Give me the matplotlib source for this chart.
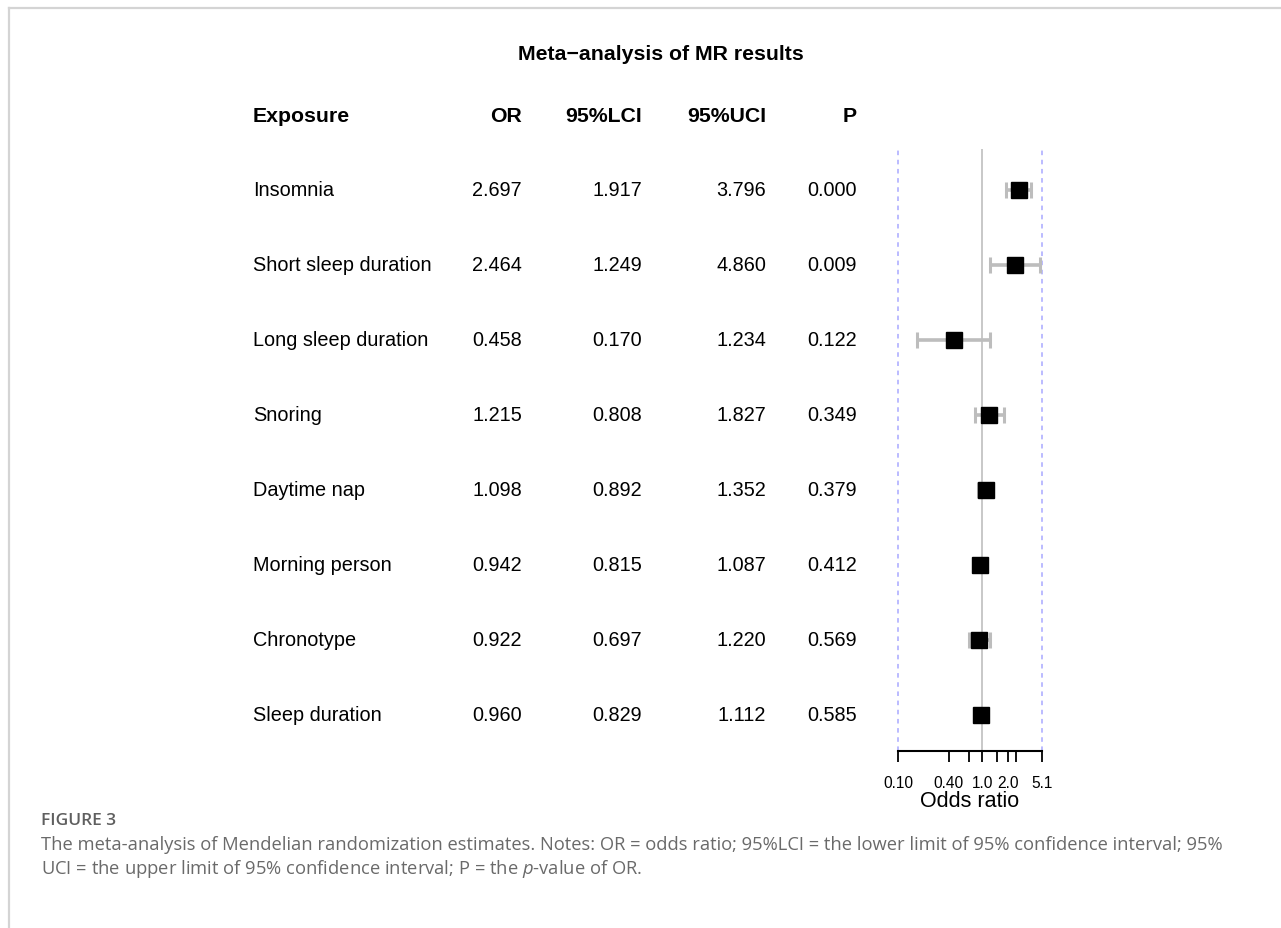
import numpy as np
import matplotlib
matplotlib.use('Agg')
import matplotlib.pyplot as plt
from matplotlib.lines import Line2D
import matplotlib.transforms as mtransforms

plt.rcParams['font.family'] = ['Liberation Sans', 'DejaVu Sans']

exposures = ['Insomnia', 'Short sleep duration', 'Long sleep duration', 'Snoring',
             'Daytime nap', 'Morning person', 'Chronotype', 'Sleep duration']
or_vals = [2.697, 2.464, 0.458, 1.215, 1.098, 0.942, 0.922, 0.960]
lci_vals = [1.917, 1.249, 0.170, 0.808, 0.892, 0.815, 0.697, 0.829]
uci_vals = [3.796, 4.860, 1.234, 1.827, 1.352, 1.087, 1.220, 1.112]
p_vals = [0.000, 0.009, 0.122, 0.349, 0.379, 0.412, 0.569, 0.585]

headers = ['Exposure', 'OR', '95%LCI', '95%UCI', 'P']
x_ticks = [0.1, 0.4, 0.7, 1.0, 1.5, 2.0, 2.5, 5.1]
x_ticklabels = ['0.10', '0.40', '', '1.0', '', '2.0', '', '5.1']
x_lims = (0.1, 5.1)

W, H = 1281, 929
fig = plt.figure(figsize=(W / 100, H / 100), dpi=100)
fig.patch.set_facecolor('white')


def fx(px):
    return px / W


def fy(py):
    return 1 - py / H


# page frame (top and left rule)
fig.add_artist(Line2D([fx(9), 1], [fy(9), fy(9)], color='#d4d4d4', lw=1.6))
fig.add_artist(Line2D([fx(9), fx(9)], [0, fy(9)], color='#d4d4d4', lw=1.6))

# forest panel: rows share the same y scale as the table text
row0, row_step = 191, 75
y_top, y_bot = 150, 752
ylim_top = (y_top - row0) / row_step
ylim_bot = (y_bot - row0) / row_step
ax = fig.add_axes([fx(898), fy(y_bot), fx(1042) - fx(898), (y_bot - y_top) / H])
ax.set_xscale('log')
ax.set_xlim(*x_lims)
ax.set_ylim(ylim_bot, ylim_top)
ax.patch.set_alpha(0)
for side in ['top', 'right', 'left']:
    ax.spines[side].set_visible(False)
ax.spines['bottom'].set_linewidth(1.5)
ax.spines['bottom'].set_bounds(*x_lims)
ax.set_yticks([])
ax.xaxis.set_minor_locator(matplotlib.ticker.NullLocator())
ax.set_xticks(x_ticks)
ax.set_xticklabels(x_ticklabels, fontsize=11.2)
ax.tick_params(axis='x', length=8, width=1.3, pad=9)
ax.set_xlabel('Odds ratio', fontsize=15.5, labelpad=0)

ax.axvline(1.0, color='#c8c8c8', lw=1.4, zorder=1)
for xv in x_lims:
    ax.axvline(xv, color='#a8a8ff', lw=1.1, ls=(0, (3, 3)), zorder=1, clip_on=False)

rows = np.arange(len(exposures))
or_arr = np.array(or_vals)
err = np.vstack([or_arr - np.array(lci_vals), np.array(uci_vals) - or_arr])
ax.errorbar(or_arr, rows, xerr=err, fmt='none', ecolor='#bdbdbd',
            elinewidth=2.6, capsize=6, capthick=2.2, zorder=2)
ax.plot(or_arr, rows, 's', color='black', markersize=11.5, zorder=3)

# table columns: x in figure pixels, y in forest row units
trans = mtransforms.blended_transform_factory(fig.transFigure, ax.transData)
col_x = [253, 522, 642, 766, 857]
col_ha = ['left', 'right', 'right', 'right', 'right']
for x, ha, h in zip(col_x, col_ha, headers):
    fig.text(fx(x), -74 / row_step, h, transform=trans, ha=ha, va='center',
             fontsize=15.3, fontweight='bold')
for i in rows:
    cells = [exposures[i], f'{or_vals[i]:.3f}', f'{lci_vals[i]:.3f}',
             f'{uci_vals[i]:.3f}', f'{p_vals[i]:.3f}']
    for x, ha, c in zip(col_x, col_ha, cells):
        fig.text(fx(x), i, c, transform=trans, ha=ha, va='center', fontsize=14.3)

fig.text(fx(661), fy(54), 'Meta\u2212analysis of MR results', ha='center', va='center',
         fontsize=15.3, fontweight='bold')

# caption
plt.rcParams['mathtext.fontset'] = 'custom'
plt.rcParams['mathtext.it'] = 'Open Sans:italic'
plt.rcParams['mathtext.rm'] = 'Open Sans'
fig.text(fx(41), fy(821), 'FIGURE 3', ha='left', va='center', fontsize=12.5,
         family='Open Sans', fontweight='semibold', color='#5f5f5f')
fig.text(fx(41), fy(845),
         'The meta-analysis of Mendelian randomization estimates. Notes: OR = odds ratio; '
         '95%LCI = the lower limit of 95% confidence interval; 95%',
         ha='left', va='center', fontsize=13.2, family='Open Sans', color='#6a6a6a')
fig.text(fx(41), fy(869),
         'UCI = the upper limit of 95% confidence interval; P = the $p$-value of OR.',
         ha='left', va='center', fontsize=13.2, family='Open Sans', color='#6a6a6a')

fig.savefig('out.png', dpi=100, facecolor='white')
